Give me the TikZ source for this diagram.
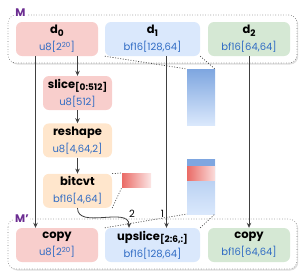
\documentclass[tikz,border=0pt]{standalone}
\usepackage{fontspec}
\setmainfont{Poppins}
\usetikzlibrary{arrows.meta, positioning, shadows}

\definecolor{pinkfill}{HTML}{F8CECC}
\definecolor{bluefill}{HTML}{DAE8FC}
\definecolor{greenfill}{HTML}{D5E8D4}
\definecolor{orangefill}{HTML}{FFE6CC}
\definecolor{shapetext}{HTML}{2F6BC4}
\definecolor{darkblue}{HTML}{7EA6E0}
\definecolor{midblue}{HTML}{A6C3EC}
\definecolor{darkred}{HTML}{EA6B66}
\definecolor{modpurple}{HTML}{6B2C91}

\newcommand{\shp}[1]{{\mdseries\fontsize{10}{10}\selectfont\color{shapetext}#1}}
\newcommand{\idx}[1]{\raisebox{-2.5pt}{\fontsize{9}{9}\selectfont #1}}

\begin{document}
\begin{tikzpicture}[x=1pt, y=-1pt, >={Stealth[length=5pt, width=4.5pt]},
  op/.style={rounded corners=6pt, minimum height=34pt, align=center, inner sep=0pt,
    font=\fontsize{11.5}{17}\selectfont\bfseries},
  module/.style={draw=black!55, dotted, line width=0.6pt, rounded corners=8pt, fill=white,
    drop shadow={shadow xshift=1.2pt, shadow yshift=-1.5pt, opacity=0.25}},
  modlabel/.style={font=\fontsize{11}{11}\selectfont\bfseries, text=modpurple, fill=white, inner sep=1pt},
  flow/.style={->, draw=black!75, line width=0.8pt},
  zoomline/.style={draw=black!70, line width=0.7pt, dash pattern=on 1pt off 1.6pt},
  tensorbar/.style={minimum width=28pt, inner sep=0pt, outer sep=0pt}]
\useasboundingbox (0,0) rectangle (302,274);

% modules
\draw[module] (8,15) rectangle (297,63);
\draw[module] (8,219) rectangle (297,269);
\node[modlabel] (mtop) at (20.5,13) {M};
\node[modlabel] (mbot) at (22,219) {M'};

% inputs
\node[op, fill=pinkfill, minimum width=82pt] (d0) at (57,39) {d\idx{0}\\\shp{u8[2\textsuperscript{20}]}};
\node[op, fill=bluefill, minimum width=95pt] (d1) at (152.5,39) {d\idx{1}\\\shp{bf16[128,64]}};
\node[op, fill=greenfill, minimum width=82pt] (d2) at (249,39) {d\idx{2}\\\shp{bf16[64,64]}};

% chain on d0
\node[op, fill=pinkfill, minimum width=69pt] (slice) at (77.5,93) {slice\idx{[0:512]}\\\shp{u8[512]}};
\node[op, fill=orangefill, minimum width=69pt, below=13pt of slice] (reshape) {reshape\\\shp{u8[4,64,2]}};
\node[op, fill=orangefill, minimum width=69pt, below=16pt of reshape] (bitcvt) {bitcvt\\\shp{bf16[4,64]}};

% outputs
\node[op, fill=pinkfill, minimum width=82pt] (copy0) at (57,245) {copy\\\shp{u8[2\textsuperscript{20}]}};
\node[op, fill=bluefill, minimum width=95pt] (upslice) at (152.5,245) {upslice\idx{[2:6,:]}\\\shp{bf16[128,64]}};
\node[op, fill=greenfill, minimum width=82pt] (copy2) at (249,245) {copy\\\shp{bf16[64,64]}};

% tensor pictures
\node[tensorbar, minimum height=56pt, top color=darkblue, bottom color=bluefill] (tensor1) at (201,97) {};
\node[tensorbar, minimum height=55pt, top color=midblue, bottom color=bluefill] (tensor2) at (201,186.5) {};
\fill[darkblue] (tensor2.north west) rectangle ++(28,7);
\shade[left color=darkred, right color=pinkfill!70] ([yshift=-7pt]tensor2.north west) rectangle ++(28,14);
\node[tensorbar, minimum width=29pt, minimum height=14pt, left color=darkred, right color=pinkfill!50] (slicebar) at (136.5,180) {};

\draw[zoomline] (d1.south west) -- (tensor1.north west);
\draw[zoomline] (d1.south east) -- (tensor1.north east);
\draw[zoomline] (upslice.north west) -- (tensor2.south west);
\draw[zoomline] (upslice.north east) -- (tensor2.south east);
\draw[zoomline] (bitcvt.north east) -- (slicebar.north west);
\draw[zoomline] (bitcvt.south east) -- (slicebar.south west);

% data flow
\draw[flow] ([xshift=-21.5pt]d0.south) -- ([xshift=-21.5pt]copy0.north);
\draw[flow] (d0.south -| slice.north) -- (slice);
\draw[flow] (slice) -- (reshape);
\draw[flow] (reshape) -- (bitcvt);
\draw[flow] ([xshift=14pt]d1.south) -- node[pos=0.92, left, inner sep=2pt, font=\fontsize{10}{10}\selectfont] {1} ([xshift=14pt]upslice.north);
\draw[flow] (d2) -- (copy2);
\draw[flow] (bitcvt.south) to[out=-90, in=90] node[pos=0.8, above right, xshift=3pt, inner sep=2pt, font=\fontsize{10}{10}\selectfont] {2} ([xshift=-23.5pt]upslice.north);
\end{tikzpicture}
\end{document}
